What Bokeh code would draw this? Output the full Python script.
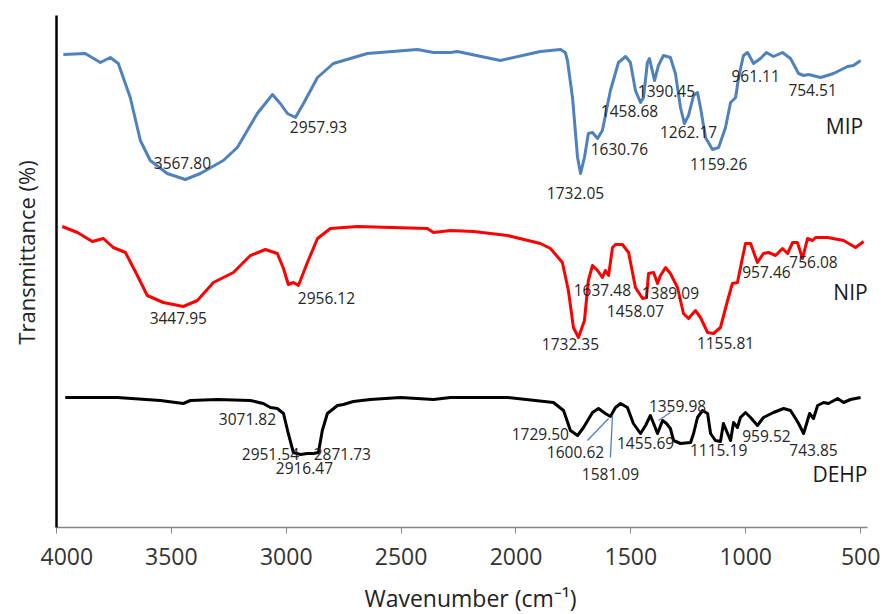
import math
from bokeh.plotting import figure
from bokeh.layouts import column, row
from bokeh.models import Range1d, FixedTicker, ColumnDataSource
from bokeh.core.properties import value
from bokeh.embed import file_html
from bokeh.resources import INLINE

# ---- data (wavenumber cm-1, transmittance offset units) ----
mip_wn = [3970, 3875, 3809, 3766, 3731, 3679, 3635, 3592, 3518, 3439,
          3374, 3274, 3213, 3126, 3060, 3026, 2995, 2960, 2925, 2864,
          2795, 2647, 2429, 2359, 2285, 2255, 2068, 1894, 1806, 1785,
          1776, 1754, 1732, 1719, 1702, 1685, 1667, 1645, 1624, 1589,
          1554, 1523, 1502, 1480, 1458, 1445, 1428, 1419, 1397, 1380,
          1358, 1328, 1306, 1284, 1267, 1249, 1227, 1210, 1197, 1175,
          1145, 1118, 1088, 1066, 1044, 1031, 1010, 992, 966, 936,
          910, 879, 840, 805, 770, 748, 727, 674, 618, 557,
          531, 500]
mip_t = [94.6, 94.8, 93.0, 94.0, 92.8, 86.0, 77.4, 73.4, 70.8, 69.6,
         70.8, 73.4, 76.0, 82.8, 86.6, 84.8, 82.8, 82.0, 84.8, 90.0,
         92.8, 94.8, 95.6, 95.0, 95.0, 95.2, 93.4, 95.2, 95.6, 95.0,
         93.4, 86.0, 74.0, 70.8, 74.0, 78.8, 79.0, 77.8, 79.4, 87.4,
         93.0, 94.2, 93.0, 87.4, 85.0, 86.0, 93.0, 93.8, 89.4, 92.4,
         94.4, 94.0, 90.8, 84.0, 80.8, 82.4, 86.4, 87.0, 84.0, 78.0,
         75.6, 76.0, 80.0, 85.0, 86.0, 90.0, 94.4, 95.0, 92.8, 93.8,
         95.0, 94.2, 95.0, 93.8, 90.8, 90.4, 90.6, 90.0, 90.8, 92.2,
         92.4, 93.4]

nip_wn = [3975, 3909, 3844, 3796, 3753, 3700, 3648, 3605, 3535, 3448,
          3387, 3317, 3230, 3156, 3091, 3039, 3012, 2991, 2969, 2947,
          2908, 2864, 2808, 2690, 2386, 2359, 2285, 2185, 2037, 1894,
          1850, 1798, 1772, 1750, 1728, 1702, 1685, 1667, 1645, 1624,
          1611, 1597, 1580, 1567, 1537, 1510, 1480, 1449, 1432, 1423,
          1401, 1384, 1371, 1349, 1328, 1297, 1271, 1249, 1219, 1197,
          1166, 1140, 1110, 1079, 1058, 1036, 1014, 1001, 979, 949,
          923, 901, 870, 840, 818, 796, 775, 753, 731, 709,
          696, 644, 574, 522, 487]
nip_t = [60.2, 59.0, 57.2, 57.8, 56.0, 55.0, 50.4, 46.4, 45.0, 44.2,
         45.4, 49.0, 51.0, 54.4, 55.6, 54.8, 51.8, 48.6, 49.0, 48.4,
         53.0, 57.8, 59.8, 60.2, 59.8, 59.0, 59.4, 59.2, 58.4, 56.8,
         55.8, 53.0, 47.4, 40.0, 38.0, 41.4, 49.4, 52.4, 51.4, 50.0,
         51.4, 50.4, 56.0, 56.6, 56.6, 55.0, 48.0, 45.8, 46.0, 50.8,
         51.0, 48.8, 50.4, 52.0, 50.8, 48.0, 42.8, 41.8, 43.4, 42.0,
         39.0, 38.8, 40.0, 45.4, 48.8, 49.0, 54.0, 56.8, 56.8, 53.0,
         54.8, 55.0, 54.4, 55.8, 54.8, 57.0, 57.0, 53.8, 57.8, 57.4,
         58.0, 58.0, 57.4, 56.0, 57.2]

dehp_wn = [3962, 3735, 3548, 3448, 3417, 3300, 3156, 3100, 3069, 3039,
           3012, 2991, 2969, 2938, 2908, 2882, 2860, 2843, 2821, 2777,
           2751, 2708, 2634, 2503, 2359, 2285, 2037, 1837, 1793, 1763,
           1732, 1706, 1667, 1641, 1611, 1589, 1567, 1545, 1515, 1489,
           1458, 1436, 1415, 1401, 1384, 1362, 1345, 1328, 1314, 1284,
           1240, 1227, 1210, 1188, 1166, 1153, 1132, 1110, 1097, 1079,
           1066, 1053, 1036, 1023, 1001, 979, 949, 923, 879, 835,
           805, 783, 770, 748, 735, 722, 705, 687, 661, 640,
           600, 574, 544, 500]
dehp_t = [26.0, 26.0, 25.4, 24.8, 25.4, 25.6, 25.4, 24.8, 24.0, 23.8,
          22.8, 18.8, 15.0, 14.6, 14.8, 14.8, 15.0, 19.4, 22.8, 24.4,
          24.6, 25.2, 25.6, 26.0, 25.6, 26.0, 26.0, 25.0, 23.4, 19.4,
          18.4, 20.0, 23.0, 23.8, 22.8, 22.2, 24.0, 24.8, 24.0, 20.8,
          18.8, 20.4, 22.4, 20.8, 18.8, 21.4, 20.8, 19.8, 17.4, 16.8,
          17.0, 18.8, 22.0, 23.4, 22.8, 18.8, 17.4, 17.2, 20.8, 18.8,
          17.4, 21.0, 20.0, 22.0, 23.0, 22.0, 20.4, 22.0, 23.0, 23.8,
          23.4, 21.8, 20.8, 18.8, 20.8, 22.8, 21.8, 24.4, 25.0, 24.8,
          25.8, 25.0, 25.6, 26.0]

# peak annotations
peak_text = ["3567.80", "2957.93", "1732.05", "1630.76", "1458.68", "1390.45",
             "1262.17", "1159.26", "961.11", "754.51",
             "3447.95", "2956.12", "1732.35", "1637.48", "1389.09", "1458.07",
             "1155.81", "957.46", "756.08",
             "3071.82", "2951.54", "2871.73", "2916.47", "1729.50", "1600.62",
             "1581.09", "1455.69", "1359.98", "1115.19", "959.52", "743.85"]
peak_wn = [3452, 2860, 1741, 1550, 1506, 1345, 1249, 1118, 957, 709,
           3470, 2825, 1763, 1624, 1328, 1480, 1088, 910, 705,
           3169, 3069, 2756, 2921, 1894, 1741, 1589, 1436, 1297, 1118, 910, 705]
peak_t = [73.0, 80.2, 67.0, 75.8, 83.4, 87.4, 79.2, 72.8, 90.4, 87.6,
          42.0, 46.0, 36.8, 47.6, 47.0, 43.4, 37.0, 51.2, 53.2,
          21.8, 14.8, 14.8, 12.0, 18.8, 15.2, 10.8, 17.0, 24.4, 15.6, 18.4, 15.6]

series_names = ["MIP", "NIP", "DEHP"]
series_wn = [570, 544, 590]
series_t = [80.4, 47.2, 10.8]

# leader lines (DEHP)
lead_x0 = [1689, 1589, 1380]
lead_y0 = [17.4, 14.0, 21.4]
lead_x1 = [1597, 1580, 1328]
lead_y1 = [21.8, 22.4, 23.0]

x_ticks = [4000, 3500, 3000, 2500, 2000, 1500, 1000, 500]
x_title = "Wavenumber (cm\u207b\u00b9)"
y_title = "Transmittance (%)"

font = "Open Sans"
W, H = 884, 614
TITLE_H = 35      # strip below for the x title
YT_W = 40         # strip on the left for the y title
MAIN_H = H - TITLE_H

p = figure(width=W - YT_W, height=MAIN_H, output_backend="svg", toolbar_location=None,
           x_range=Range1d(4000, 470), y_range=Range1d(0, 102.4),
           min_border_left=56 - YT_W, min_border_right=17, min_border_top=15,
           min_border_bottom=MAIN_H - 527)
p.outline_line_color = None
p.grid.visible = False

p.line(mip_wn, mip_t, line_color="#4F81BD", line_width=3, line_join="round")
p.line(nip_wn, nip_t, line_color="#FF0000", line_width=3, line_join="round")
p.line(dehp_wn, dehp_t, line_color="#000000", line_width=3, line_join="round")

p.segment(x0=lead_x0, y0=lead_y0, x1=lead_x1, y1=lead_y1,
          line_color="#4F81BD", line_width=1.3)

src = ColumnDataSource(dict(x=peak_wn, y=peak_t, text=peak_text))
p.text(x="x", y="y", text="text", source=src, text_font=value(font),
       text_font_size="15.5px", text_color="#262626",
       text_align="center", text_baseline="middle")

src2 = ColumnDataSource(dict(x=series_wn, y=series_t, text=series_names))
p.text(x="x", y="y", text="text", source=src2, text_font=value(font),
       text_font_size="21px", text_color="#1a1a1a",
       text_align="center", text_baseline="middle")

xa = p.xaxis[0]
xa.ticker = FixedTicker(ticks=x_ticks)
xa.axis_line_color = "#868686"
xa.axis_line_width = 1.5
xa.major_tick_line_color = "#868686"
xa.major_tick_out = 6
xa.major_tick_in = 0
xa.minor_tick_line_color = None
xa.major_label_text_font = font
xa.major_label_text_font_size = "23px"
xa.major_label_text_color = "#333333"
xa.major_label_standoff = 14

ya = p.yaxis[0]
ya.ticker = FixedTicker(ticks=[])
ya.axis_line_color = "#000000"
ya.axis_line_width = 2.5
ya.minor_tick_line_color = None
ya.major_tick_line_color = None

# y-title strip
py = figure(width=YT_W, height=MAIN_H, output_backend="svg", toolbar_location=None,
            x_range=Range1d(0, YT_W), y_range=Range1d(MAIN_H, 0),
            x_axis_location=None, y_axis_location=None, min_border=0)
py.outline_line_color = None
py.grid.visible = False
py.text(x=[25], y=[268], text=[y_title], angle=math.pi / 2,
        text_font=value(font), text_font_size="22px", text_color="#222222",
        text_align="center", text_baseline="middle")

# x-title strip
px = figure(width=W, height=TITLE_H, output_backend="svg", toolbar_location=None,
            x_range=Range1d(0, W), y_range=Range1d(TITLE_H, 0),
            x_axis_location=None, y_axis_location=None, min_border=0)
px.outline_line_color = None
px.grid.visible = False
px.text(x=[470], y=[597 - MAIN_H], text=[x_title],
        text_font=value(font), text_font_size="23px", text_color="#222222",
        text_align="center", text_baseline="middle")

layout = column(row(py, p), px)
open("out.html", "w").write(file_html(layout, INLINE))
